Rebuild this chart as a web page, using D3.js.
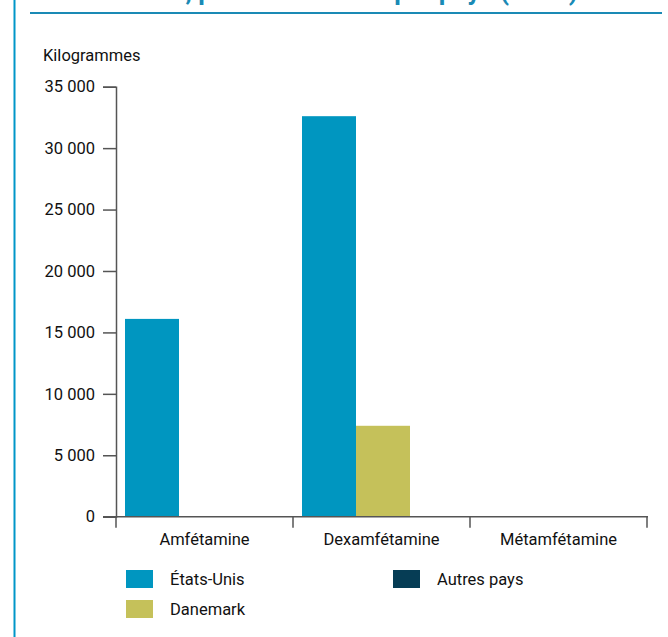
<!DOCTYPE html>
<html><head><meta charset="utf-8">
<script src="https://cdn.jsdelivr.net/npm/d3@7"></script>
<style>
html,body{margin:0;padding:0;background:#fff;}
svg{display:block;}
text{font-family:Roboto,"Noto Sans",sans-serif;fill:#111;}
</style></head>
<body>
<svg id="chart" width="668" height="637"></svg>
<script>
const categories = ["Amfétamine", "Dexamfétamine", "Métamfétamine"];
const seriesNames = ["États-Unis", "Danemark", "Autres pays"];
const valuesEtatsUnis = [16100, 32600, 0];
const valuesDanemark = [0, 7400, 0];
const valuesAutres = [0, 0, 0];
const yTicks = [0, 5000, 10000, 15000, 20000, 25000, 30000, 35000];
const colors = ["#0096c0", "#c5c15a", "#063d55"];
const titleText = "Fabrication de stimulants, production licite par pays (2012)";
const yLabel = "Kilogrammes";

(function(){
const seriesValues = [valuesEtatsUnis, valuesDanemark, valuesAutres];
const svg = d3.select("#chart");

// frame decorations
svg.append("line").attr("x1",14.5).attr("x2",14.5).attr("y1",0).attr("y2",637)
  .attr("stroke","#0096c8").attr("stroke-width",2);
svg.append("line").attr("x1",30).attr("x2",662).attr("y1",13).attr("y2",13)
  .attr("stroke","#1a8ab5").attr("stroke-width",2);
svg.append("text").attr("x",578).attr("y",0).attr("text-anchor","end")
  .style("font-size","26px").style("font-weight","bold").style("fill","#1a8ab5")
  .text(titleText);

const mLeft = 116, mRight = 647, mTop = 86.7, mBottom = 516.7;
const x0 = d3.scaleBand().domain(categories).range([mLeft, mRight]).padding(0);
const x1 = d3.scaleBand().domain(seriesNames).range([9, 171]).padding(0);
const y = d3.scaleLinear().domain([0, 35000]).range([mBottom, mTop]);

const fmt = v => d3.format(",")(v).replace(/,/g, " ");

// bars
const data = [];
categories.forEach((c, i) => seriesNames.forEach((s, j) => data.push({c, s, j, v: seriesValues[j][i]})));
svg.append("g").selectAll("rect").data(data.filter(d => d.v > 0)).join("rect")
  .attr("x", d => x0(d.c) + x1(d.s))
  .attr("width", x1.bandwidth())
  .attr("y", d => y(d.v))
  .attr("height", d => y(0) - y(d.v))
  .attr("fill", d => colors[d.j]);

// y axis
const yAxis = svg.append("g").attr("transform", `translate(${mLeft},0)`)
  .call(d3.axisLeft(y).tickValues(yTicks).tickFormat(fmt).tickSize(13).tickPadding(8));
yAxis.selectAll("path,line").attr("stroke","#555").attr("stroke-width",1.5);
yAxis.selectAll("text").style("font-size","16.5px").style("font-family","Roboto").attr("fill","#111");

// x axis
const xAxis = svg.append("g").attr("transform", `translate(0,${mBottom})`);
xAxis.append("line").attr("x1", 103).attr("x2", mRight + 1).attr("y1",0).attr("y2",0)
  .attr("stroke","#555").attr("stroke-width",1.5);
const bounds = categories.map(c => x0(c)).concat([x0(categories[categories.length-1]) + x0.bandwidth()]);
xAxis.selectAll("line.tk").data(bounds).join("line").attr("class","tk")
  .attr("x1", d => d).attr("x2", d => d).attr("y1", 0).attr("y2", 11)
  .attr("stroke","#555").attr("stroke-width",1.5);
xAxis.selectAll("text").data(categories).join("text")
  .attr("x", d => x0(d) + x0.bandwidth()/2).attr("y", 28.5)
  .attr("text-anchor","middle").style("font-size","16.5px").text(d => d);

// y label
svg.append("text").attr("x", 43).attr("y", 61).style("font-size","16.5px").text(yLabel);

// legend
const legendPos = [{x:126,y:570},{x:126,y:600},{x:393,y:570}];
const lg = svg.append("g").selectAll("g").data(seriesNames).join("g")
  .attr("transform",(d,i)=>`translate(${legendPos[i].x},${legendPos[i].y})`);
lg.append("rect").attr("width",27).attr("height",18).attr("fill",(d,i)=>colors[i]);
lg.append("text").attr("x",44).attr("y",15).style("font-size","16.5px").text(d=>d);
})();
</script>
</body></html>
